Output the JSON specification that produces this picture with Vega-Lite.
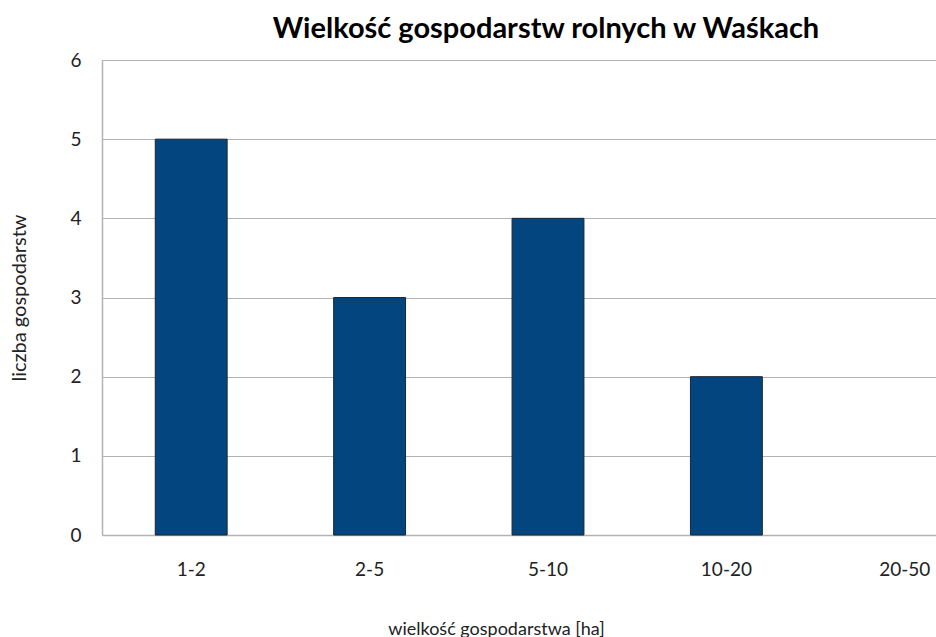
{
  "$schema": "https://vega.github.io/schema/vega-lite/v6.json",
  "width": 834,
  "height": 475,
  "autosize": {"type": "none"},
  "padding": {"left": 102, "top": 60, "right": 0, "bottom": 102},
  "background": "white",
  "title": {
    "text": "Wielkość gospodarstw rolnych w Waśkach",
    "font": "Lato",
    "fontSize": 29,
    "fontWeight": "bold",
    "color": "#000000",
    "anchor": "middle",
    "dx": 27,
    "offset": 7
  },
  "data": {
    "values": [
      {"wielkosc": "1-2", "liczba": 5},
      {"wielkosc": "2-5", "liczba": 3},
      {"wielkosc": "5-10", "liczba": 4},
      {"wielkosc": "10-20", "liczba": 2},
      {"wielkosc": "20-50", "liczba": 0}
    ]
  },
  "mark": {"type": "bar", "color": "#02457f", "stroke": "#1c2733"},
  "encoding": {
    "x": {
      "field": "wielkosc",
      "type": "nominal",
      "sort": null,
      "scale": {"range": [0, 892], "paddingInner": 0.597, "paddingOuter": 0.2985},
      "axis": {
        "title": "wielkość gospodarstwa [ha]",
        "titleFont": "Lato",
        "titleFontSize": 18,
        "titleFontWeight": "normal",
        "titleColor": "#222222",
        "titlePadding": 41,
        "titleX": 394,
        "labelAngle": 0,
        "labelFont": "Lato",
        "labelFontSize": 19,
        "labelColor": "#222222",
        "labelPadding": 25,
        "ticks": false,
        "domainColor": "#b3b3b3",
        "domainWidth": 1.5,
        "grid": false
      }
    },
    "y": {
      "field": "liczba",
      "type": "quantitative",
      "scale": {"domain": [0, 6], "nice": false},
      "axis": {
        "title": "liczba gospodarstw",
        "titleFont": "Lato",
        "titleFontSize": 20,
        "titleFontWeight": "normal",
        "titleColor": "#222222",
        "titlePadding": 40,
        "values": [0, 1, 2, 3, 4, 5, 6],
        "labelFont": "Lato",
        "labelFontSize": 19,
        "labelColor": "#222222",
        "labelPadding": 21,
        "ticks": false,
        "domainColor": "#b3b3b3",
        "domainWidth": 1.5,
        "gridColor": "#b3b3b3",
        "gridWidth": 1.2
      }
    },
    "strokeWidth": {
      "condition": {"test": "datum.liczba == 0", "value": 0},
      "value": 1
    }
  },
  "config": {
    "view": {"stroke": null}
  }
}
